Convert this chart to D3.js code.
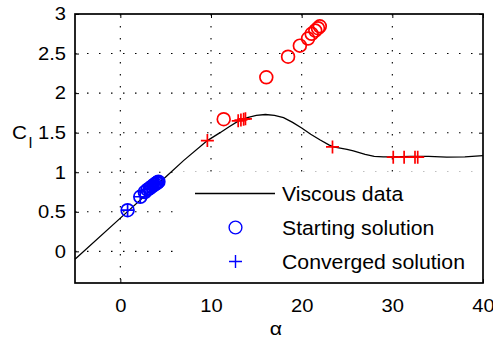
<!DOCTYPE html>
<html>
<head>
<meta charset="utf-8">
<script src="https://cdn.jsdelivr.net/npm/d3@7"></script>
<style>
  html, body { margin: 0; padding: 0; background: #fff; }
  svg { display: block; font-family: "Liberation Sans", Arial, Helvetica, sans-serif; }
</style>
</head>
<body>
<svg id="chart" width="493" height="340"></svg>
<script>
// Viscous lift curve
const viscousAlpha = [-5, 0, 5, 7, 9.6, 11, 12, 13, 14, 15, 16, 17, 18, 19, 20, 21, 22, 23, 23.5, 25, 25.7, 27, 28, 29, 30, 32, 34, 36, 38, 40];
const viscousCl    = [-0.10, 0.42, 0.94, 1.15, 1.40, 1.50, 1.575, 1.645, 1.69, 1.72, 1.73, 1.72, 1.69, 1.63, 1.56, 1.48, 1.41, 1.345, 1.32, 1.29, 1.27, 1.225, 1.20, 1.195, 1.195, 1.20, 1.20, 1.19, 1.195, 1.21];

// Low-alpha solutions (blue): starting points and converged points
const blueStartAlpha = [0.8, 2.2, 2.7, 3.0, 3.25, 3.5, 3.7, 3.85, 4.0, 4.1, 4.2];
const blueStartCl    = [0.52, 0.69, 0.75, 0.78, 0.80, 0.82, 0.84, 0.85, 0.865, 0.87, 0.88];
const blueConvAlpha  = [0.8, 2.2, 2.7, 3.0, 3.25, 3.5, 3.7, 3.85, 4.0, 4.1, 4.2];
const blueConvCl     = [0.52, 0.69, 0.75, 0.78, 0.80, 0.82, 0.84, 0.85, 0.865, 0.87, 0.88];

// High-alpha solutions (red): starting points and converged points
const redStartAlpha = [11.4, 16.1, 18.5, 19.8, 20.7, 21.1, 21.5, 21.8, 22.0];
const redStartCl    = [1.67, 2.20, 2.46, 2.60, 2.69, 2.75, 2.79, 2.82, 2.845];
const redConvAlpha  = [9.6, 13.0, 13.3, 13.6, 13.8, 23.4, 30.1, 31.3, 32.5, 32.8];
const redConvCl     = [1.40, 1.65, 1.66, 1.67, 1.675, 1.32, 1.19, 1.19, 1.19, 1.19];

// Axis ticks and legend entries
const xTicks = [0, 10, 20, 30, 40];
const yTicks = [0, 0.5, 1, 1.5, 2, 2.5, 3];
const legendLabels = ["Viscous data", "Starting solution", "Converged solution"];

const svg = d3.select("#chart");
const x = d3.scaleLinear().domain([-5, 40]).range([75, 483]);
const y = d3.scaleLinear().domain([-0.4, 3]).range([283, 14]);

const SX = 1.12; // horizontal text stretch

// dotted grid
const grid = svg.append("g").attr("stroke", "#000").attr("stroke-width", 1.1)
  .attr("stroke-dasharray", "1.5,10.5");
grid.selectAll("line.gx").data(xTicks.filter(d => d > -5 && d < 40)).join("line")
  .attr("x1", d => x(d)).attr("x2", d => x(d)).attr("y1", y(3)).attr("y2", y(-0.4));
grid.selectAll("line.gy").data(yTicks.filter(d => d < 3)).join("line")
  .attr("y1", d => y(d)).attr("y2", d => y(d)).attr("x1", x(-5)).attr("x2", x(40));

// ticks (inward) on all four sides
const axL = svg.append("g").attr("transform", `translate(${x(-5)},0)`)
  .call(d3.axisLeft(y).tickValues(yTicks).tickSize(-4).tickPadding(9).tickFormat(d3.format("")));
const axB = svg.append("g").attr("transform", `translate(0,${y(-0.4)})`)
  .call(d3.axisBottom(x).tickValues(xTicks).tickSize(-4).tickPadding(16).tickFormat(d3.format("")));
svg.append("g").attr("transform", `translate(0,${y(3)})`)
  .call(d3.axisTop(x).tickValues(xTicks).tickSize(-4).tickFormat(""));
svg.append("g").attr("transform", `translate(${x(40)},0)`)
  .call(d3.axisRight(y).tickValues(yTicks).tickSize(-4).tickFormat(""));
svg.selectAll(".domain").remove();
svg.selectAll(".tick line").attr("stroke", "#000").attr("stroke-width", 1);

[axL, axB].forEach(ax => {
  ax.selectAll("text")
    .attr("font-family", "'Liberation Sans', Arial, sans-serif")
    .attr("font-size", 18).attr("fill", "#000")
    .each(function () {
      const t = d3.select(this);
      const tx = +t.attr("x") || 0;
      t.attr("x", tx / SX).attr("transform", `scale(${SX},1)`);
    });
});

// viscous curve
const pts = viscousAlpha.map((a, i) => [a, viscousCl[i]]);
svg.append("path").datum(pts)
  .attr("fill", "none").attr("stroke", "#000").attr("stroke-width", 1.3)
  .attr("d", d3.line().x(d => x(d[0])).y(d => y(d[1])));

const R = 6.4, P = 6.5, MW = 1.7;
function circles(alphas, cls, color) {
  svg.append("g").selectAll("circle").data(alphas.map((a, i) => [a, cls[i]])).join("circle")
    .attr("cx", d => x(d[0])).attr("cy", d => y(d[1])).attr("r", R)
    .attr("fill", "none").attr("stroke", color).attr("stroke-width", MW);
}
function pluses(alphas, cls, color) {
  svg.append("g").selectAll("path").data(alphas.map((a, i) => [a, cls[i]])).join("path")
    .attr("d", d => {
      const cx = x(d[0]), cy = y(d[1]);
      return `M${cx - P},${cy}H${cx + P}M${cx},${cy - P}V${cy + P}`;
    })
    .attr("fill", "none").attr("stroke", color).attr("stroke-width", MW);
}
circles(blueStartAlpha, blueStartCl, "#0000ff");
pluses(blueConvAlpha, blueConvCl, "#0000ff");
circles(redStartAlpha, redStartCl, "#ff0000");
pluses(redConvAlpha, redConvCl, "#ff0000");

// legend
const lg = svg.append("g");
lg.append("rect").attr("x", 177).attr("y", 172).attr("width", x(40) - 177).attr("height", y(-0.4) - 172)
  .attr("fill", "#fff");
const baselines = [200.5, 234.5, 268.5];
lg.append("line").attr("x1", 195).attr("x2", 275)
  .attr("y1", baselines[0] - 7).attr("y2", baselines[0] - 7)
  .attr("stroke", "#000").attr("stroke-width", 1.3);
lg.append("circle").attr("cx", 235.5).attr("cy", baselines[1] - 7).attr("r", R)
  .attr("fill", "none").attr("stroke", "#0000ff").attr("stroke-width", 1.4);
lg.append("path")
  .attr("d", `M${235.5 - P},${baselines[2] - 7}H${235.5 + P}M235.5,${baselines[2] - 7 - P}V${baselines[2] - 7 + P}`)
  .attr("stroke", "#0000ff").attr("stroke-width", 1.4).attr("fill", "none");
lg.selectAll("text").data(legendLabels).join("text")
  .attr("transform", (d, i) => `translate(282,${baselines[i]}) scale(1.09,1)`)
  .attr("font-size", 19.5).attr("fill", "#000").text(d => d);

// axes frame
svg.append("rect").attr("x", x(-5)).attr("y", y(3))
  .attr("width", x(40) - x(-5)).attr("height", y(-0.4) - y(3))
  .attr("fill", "none").attr("stroke", "#000").attr("stroke-width", 1.7);

// axis titles
const yl = svg.append("text").attr("transform", `translate(12,139) scale(${SX},1)`)
  .attr("font-size", 18.5).attr("fill", "#000");
yl.append("tspan").text("C");
yl.append("tspan").attr("font-size", 14).attr("dx", 1.5).attr("dy", 9.3).text("l");

svg.append("text").attr("transform", `translate(276,335) scale(${SX},1)`)
  .attr("text-anchor", "middle").attr("font-size", 19).attr("fill", "#000").text("α");
</script>
</body>
</html>
